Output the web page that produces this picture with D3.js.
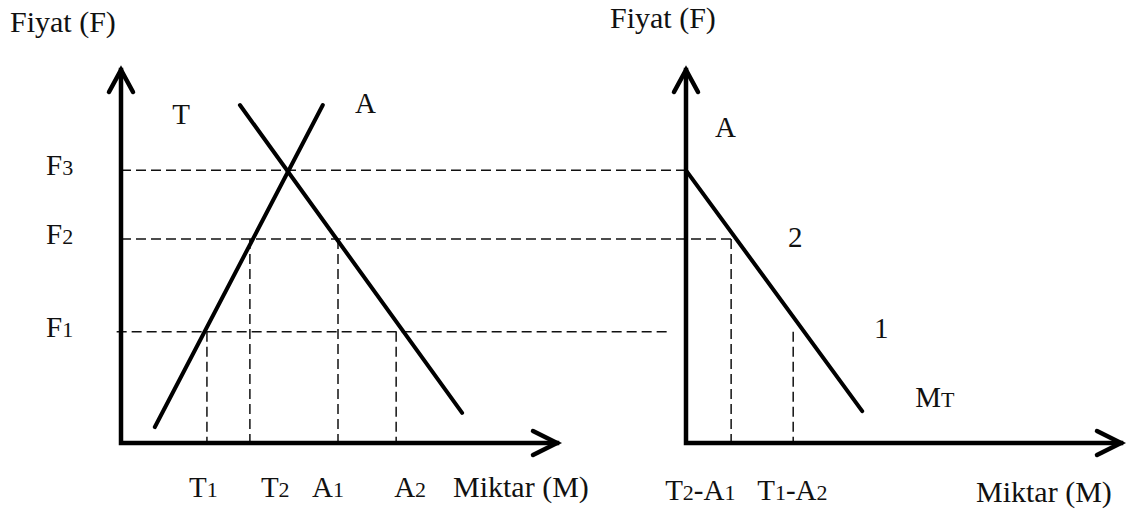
<!DOCTYPE html>
<html>
<head>
<meta charset="utf-8">
<script src="https://cdn.jsdelivr.net/npm/d3@7"></script>
<style>
  body { margin: 0; background: #fff; }
  text { font-family: "Liberation Serif", "Times New Roman", serif; fill: #111; }
  .curve { fill: none; stroke: #000; stroke-width: 4; stroke-linecap: round; }
  .axis-line { fill: none; stroke: #000; stroke-width: 4.5; stroke-linecap: square; stroke-linejoin: miter; }
  .guide { fill: none; stroke: #111; stroke-width: 1.5; stroke-dasharray: 10,5; }
</style>
</head>
<body>
<div id="chart"></div>
<script>
// price levels F1, F2, F3 (shared by both panels)
var priceLevels = [3.0, 5.5, 7.35];
var priceNames = ["F", "F", "F"];
var priceSubs = ["1", "2", "3"];
// where each price guide stops, in right panel quantity units
var priceGuideEnd = [-0.37, 1.04, 0];

// left panel quantities read at the price guides
var qValues = [1.98, 2.97, 5.0, 6.34];
var qFromPrice = [3.0, 5.5, 5.5, 3.0];
var qNames = ["T", "T", "A", "A"];
var qSubs = ["1", "2", "1", "2"];

// supply (T) and demand (A) lines, left panel
var supply = [{q: 0.78, p: 0.43}, {q: 4.65, p: 9.11}];
var demand = [{q: 2.74, p: 9.11}, {q: 7.86, p: 0.81}];

// import demand (MT) line, right panel
var importDemand = [{q: 0, p: 7.35}, {q: 4.06, p: 0.86}];
var netValues = [1.04, 2.47];
var netFromPrice = [5.5, 3.0];
var netLabels = [["T", "2", "-A", "1"], ["T", "1", "-A", "2"]];

// curve annotations
var leftNotes = [{q: 1.18, p: 8.6, t: "T"}, {q: 5.39, p: 8.89, t: "A"}];
var rightNotes = [{q: 0.67, p: 8.25, t: "A"}, {q: 2.35, p: 5.28, t: "2"}, {q: 4.33, p: 2.83, t: "1"}];

// layout
var width = 1132, height = 516;
var axisY = 443, topY = 70;
var xL = d3.scaleLinear().domain([0, 10]).range([121, 555]);
var xR = d3.scaleLinear().domain([0, 10]).range([686, 1120]);
var y = d3.scaleLinear().domain([0, 10]).range([axisY, 72]);
var qLabelDx = [-18, 11, -26, -2];
var netLabelDx = [-66, -36];

var line = function(xs) {
  return d3.line().x(function(d) { return xs(d.q); }).y(function(d) { return y(d.p); });
};

var svg = d3.select("#chart").append("svg")
    .attr("width", width)
    .attr("height", height);

// dashed price guides across both panels
svg.selectAll(".pguide")
    .data(priceLevels)
  .enter().append("path")
    .attr("class", "guide")
    .attr("d", function(d, i) {
      var x0 = i === 0 ? xL(-0.1) : xL(0);
      return "M" + x0 + "," + y(d) + "H" + xR(priceGuideEnd[i]);
    });

// dashed quantity drops, left panel
svg.selectAll(".qguide")
    .data(qValues)
  .enter().append("path")
    .attr("class", "guide")
    .attr("d", function(d, i) { return "M" + xL(d) + "," + y(qFromPrice[i]) + "V" + axisY; });

// dashed drops, right panel
svg.selectAll(".nguide")
    .data(netValues)
  .enter().append("path")
    .attr("class", "guide")
    .attr("d", function(d, i) { return "M" + xR(d) + "," + y(netFromPrice[i]) + "V" + axisY; });

// axes with open arrow heads
function drawAxes(xs, xEnd) {
  var x0 = xs(0);
  svg.append("path").attr("class", "axis-line")
    .attr("d", "M" + x0 + "," + topY + "V" + axisY + "H" + xEnd);
  svg.append("path").attr("class", "axis-line").style("stroke-linecap", "round")
    .attr("d", "M" + (x0 - 12) + "," + (topY + 22) + "L" + x0 + "," + topY + "L" + (x0 + 12) + "," + (topY + 22));
  svg.append("path").attr("class", "axis-line").style("stroke-linecap", "round")
    .attr("d", "M" + (xEnd - 24) + "," + (axisY - 12) + "L" + xEnd + "," + axisY + "L" + (xEnd - 24) + "," + (axisY + 12));
}
drawAxes(xL, 557);
drawAxes(xR, 1121);

// curves
svg.append("path").datum(supply).attr("class", "curve").attr("d", line(xL));
svg.append("path").datum(demand).attr("class", "curve").attr("d", line(xL));
svg.append("path").datum(importDemand).attr("class", "curve").attr("d", line(xR));

// label helper: base letter plus smaller digit
function subLabel(sel, parts) {
  parts.forEach(function(s, k) {
    sel.append("tspan").attr("font-size", k % 2 === 1 ? "22px" : null).text(s);
  });
}

// price tick labels
svg.selectAll(".plabel")
    .data(priceLevels)
  .enter().append("text")
    .attr("x", 46)
    .attr("y", function(d) { return y(d) + 5; })
    .attr("font-size", "29px")
    .each(function(d, i) { subLabel(d3.select(this), [priceNames[i], priceSubs[i]]); });

// quantity tick labels, left
svg.selectAll(".qlabel")
    .data(qValues)
  .enter().append("text")
    .attr("x", function(d, i) { return xL(d) + qLabelDx[i]; })
    .attr("y", 497)
    .attr("font-size", "29px")
    .each(function(d, i) { subLabel(d3.select(this), [qNames[i], qSubs[i]]); });

// quantity tick labels, right
svg.selectAll(".nlabel")
    .data(netValues)
  .enter().append("text")
    .attr("x", function(d, i) { return xR(d) + netLabelDx[i]; })
    .attr("y", 500)
    .attr("font-size", "29px")
    .each(function(d, i) { subLabel(d3.select(this), netLabels[i]); });

// curve annotations
svg.selectAll(".lnote")
    .data(leftNotes)
  .enter().append("text")
    .attr("x", function(d) { return xL(d.q); })
    .attr("y", function(d) { return y(d.p); })
    .attr("font-size", "29px")
    .text(function(d) { return d.t; });

svg.selectAll(".rnote")
    .data(rightNotes)
  .enter().append("text")
    .attr("x", function(d) { return xR(d.q); })
    .attr("y", function(d) { return y(d.p); })
    .attr("font-size", "29px")
    .text(function(d) { return d.t; });

var mt = svg.append("text")
    .attr("x", xR(5.28))
    .attr("y", y(0.97))
    .attr("font-size", "29px");
mt.append("tspan").text("M");
mt.append("tspan").attr("font-size", "22px").text("T");

// axis titles
svg.append("text").attr("x", 10).attr("y", 32).attr("font-size", "30px").text("Fiyat (F)");
svg.append("text").attr("x", 610).attr("y", 28).attr("font-size", "30px").text("Fiyat (F)");
svg.append("text").attr("x", 453).attr("y", 497).attr("font-size", "30px").text("Miktar (M)");
svg.append("text").attr("x", 976).attr("y", 502).attr("font-size", "30px").text("Miktar (M)");
</script>
</body>
</html>
